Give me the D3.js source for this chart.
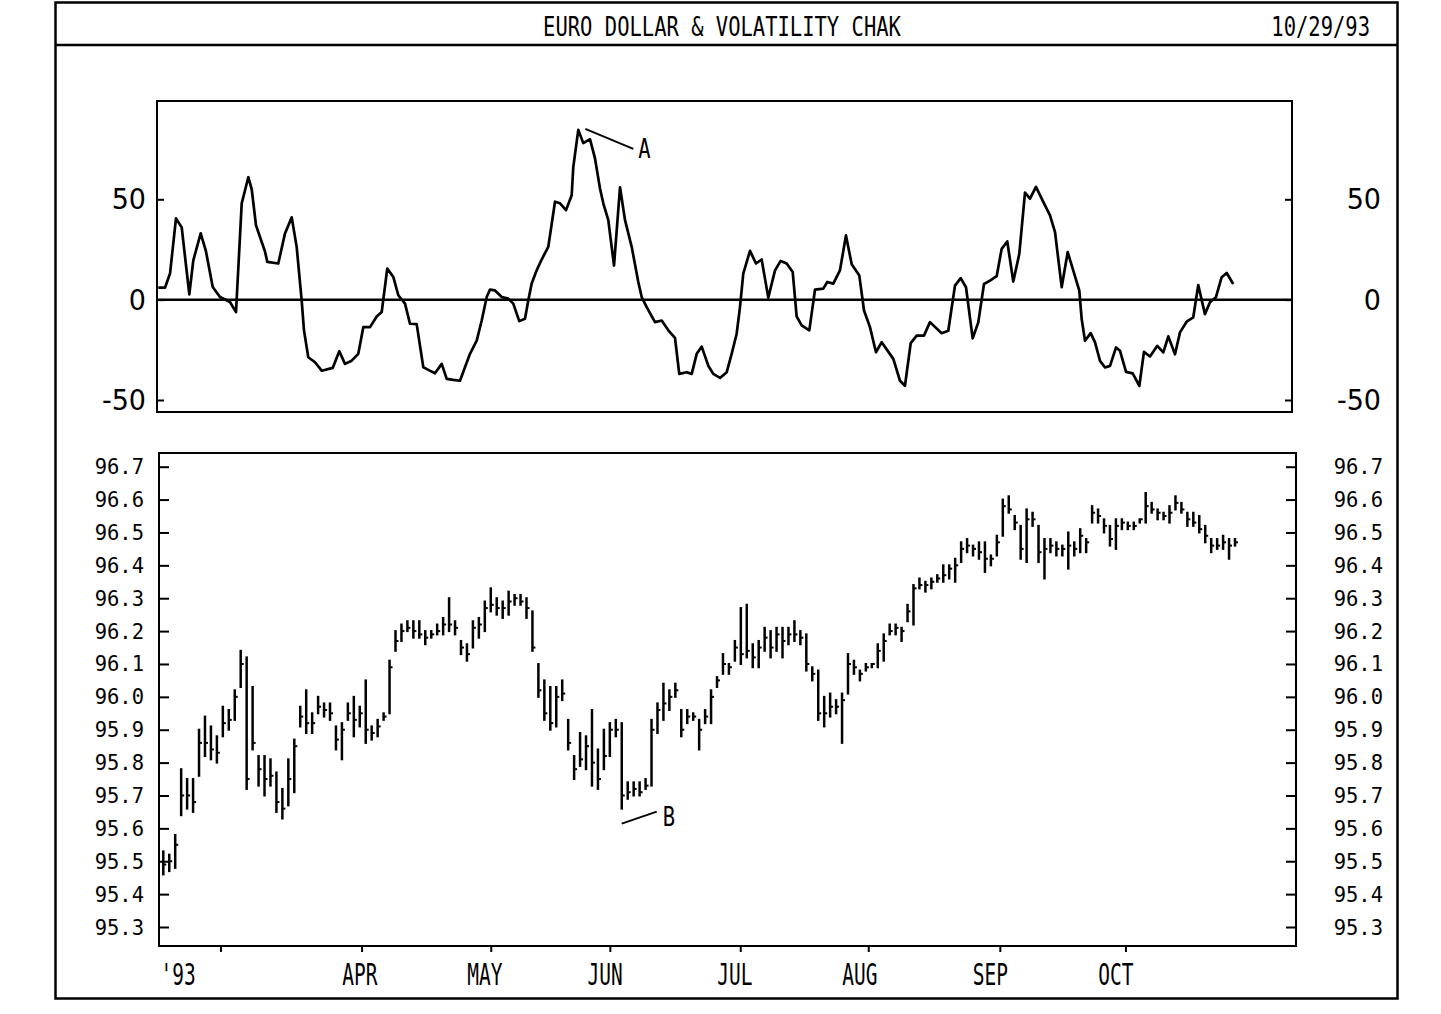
<!DOCTYPE html>
<html><head><meta charset="utf-8">
<script src="https://cdn.jsdelivr.net/npm/d3@7/dist/d3.min.js"></script>
<style>html,body{margin:0;padding:0;background:#fff;}svg{display:block;}</style>
</head><body>
<svg id="c" width="1441" height="1014"></svg>
<script>
// ---------------- data ----------------
const titleText = "EURO DOLLAR & VOLATILITY CHAK";
const dateText = "10/29/93";
const volTicks = [50, 0, -50];
const priceTicks = [96.7,96.6,96.5,96.4,96.3,96.2,96.1,96.0,95.9,95.8,95.7,95.6,95.5,95.4,95.3];
const monthTickDays = [9.6, 33.3, 55.0, 75.0, 96.9, 118.4, 140.5, 161.6];
const monthLabels = ["APR","MAY","JUN","JUL","AUG","SEP","OCT"];
const monthLabelDays = [33.0, 54.0, 74.2, 96.0, 117.0, 138.9, 160.0];
const yearLabel = "'93";
const yearLabelDay = 2.5;

// volatility line: trading-day position and value
const volDay = [-0.84,0.29,1.13,2.13,3.09,4.37,5.04,6.28,7.17,8.30,9.52,11.2,12.21,13.17,14.28,14.85,15.57,17.08,17.47,19.31,20.44,21.57,22.4,23.24,23.63,24.35,25.48,26.6,28.45,29.56,30.52,31.64,32.75,33.59,34.72,35.84,36.68,37.62,38.63,39.47,40.6,41.43,42.56,43.67,44.51,45.63,46.76,47.6,48.71,49.83,50.67,51.51,52.64,53.48,54.32,54.87,55.71,56.84,57.94,58.78,59.79,60.75,61.3,61.87,62.71,63.55,64.66,65.79,66.63,67.64,68.59,68.86,69.7,70.54,71.66,72.5,73.34,73.9,74.74,75.7,76.71,77.55,78.67,79.78,80.35,81.19,82.58,83.71,84.82,85.94,86.66,87.91,88.75,89.59,90.43,91.53,92.37,93.5,94.62,95.46,96.3,96.86,97.41,98.54,99.55,100.5,101.61,102.74,103.69,104.7,105.71,106.38,107.22,108.5,109.46,110.85,111.52,112.53,113.65,114.66,115.62,116.9,117.69,118.69,119.7,120.66,122.61,123.73,124.57,125.53,126.54,127.76,128.77,130.73,131.84,132.97,133.93,134.82,135.94,136.88,137.84,138.85,139.97,140.81,141.75,142.76,143.77,144.73,145.57,146.57,147.8,148.93,149.77,150.89,151.9,152.84,153.85,154.25,154.81,155.76,156.49,157.33,158.17,159.01,160.02,160.69,161.7,162.82,163.93,164.71,165.72,166.95,167.96,168.8,169.92,170.76,171.88,172.99,173.83,174.95,175.79,176.8,177.76,178.6,179.7];
const volValue = [6,6,13,40.5,36,2.6,19.6,33,24,6.3,1.3,-1.2,-6.2,48,61,55,37,24,18.8,18,33,41,26.3,-0.4,-15.3,-28.7,-31.2,-35.4,-34,-25.7,-32,-30.4,-27,-13.7,-13.7,-8.4,-6.2,15.5,11.3,2.2,-2,-12,-12.2,-33.7,-35,-36.7,-32,-39.5,-40,-40.4,-33.7,-27,-20.4,-10.4,1.3,5,4.6,1.3,0.5,-2,-10.7,-9.5,-0.4,8,14.6,20,26.3,48.8,48,44.6,52,66,84.6,78,80,70.5,55.5,48,39.6,17,56,39.6,26.3,8.8,1.3,-3.7,-11.2,-10.4,-15.3,-19,-37,-36.2,-37,-27,-23.4,-32.9,-37,-39,-36.2,-27,-17,-3.7,13,24.3,18,20,1,14.6,19.3,18,13.8,-8.4,-12.8,-15.3,5,5.5,8.8,8,14.6,32,17.6,12,-5.4,-13.7,-26.2,-21.2,-29.5,-40.4,-42.9,-21.7,-17.9,-17.9,-11.2,-16.7,-15.5,7,10.7,6.2,-19.3,-11.3,7.8,9.5,11.7,25.3,29,9,22.8,53.3,50.3,56.2,48.7,42,33.7,6.2,23.7,14.5,4.5,-9.7,-20.5,-16.7,-21.3,-30.5,-33.8,-33,-23.8,-25.5,-36,-36.7,-43,-26,-28.3,-23,-26.3,-18.3,-27.2,-16.3,-11,-8.8,7.3,-7.2,-1.3,1.2,11.2,13.3,7.8];

// daily price bars (one per trading day)
const barHigh = [95.53,95.52,95.58,95.78,95.75,95.75,95.90,95.94,95.91,95.88,95.97,95.96,96.02,96.14,96.12,96.03,95.82,95.82,95.81,95.77,95.72,95.81,95.87,95.97,96.02,95.95,96.00,95.98,95.98,95.91,95.92,95.98,96.00,95.97,96.05,95.91,95.93,95.95,96.11,96.20,96.22,96.23,96.23,96.23,96.20,96.20,96.22,96.24,96.30,96.23,96.17,96.16,96.23,96.24,96.29,96.33,96.30,96.29,96.32,96.31,96.31,96.30,96.26,96.10,96.05,96.03,96.03,96.05,95.93,95.82,95.89,95.88,95.96,95.84,95.90,95.92,95.93,95.92,95.74,95.74,95.74,95.75,95.93,95.98,96.04,96.02,96.04,95.96,95.96,95.95,95.93,95.96,96.02,96.06,96.13,96.10,96.17,96.27,96.28,96.16,96.17,96.21,96.20,96.21,96.21,96.21,96.23,96.20,96.19,96.09,96.08,96.00,96.01,95.99,96.01,96.13,96.11,96.08,96.10,96.10,96.16,96.19,96.22,96.22,96.21,96.28,96.34,96.36,96.35,96.36,96.37,96.40,96.40,96.42,96.47,96.48,96.46,96.47,96.47,96.43,96.49,96.60,96.61,96.55,96.52,96.57,96.56,96.52,96.48,96.48,96.47,96.46,96.50,96.47,96.51,96.48,96.58,96.57,96.54,96.52,96.54,96.54,96.53,96.53,96.54,96.62,96.59,96.57,96.56,96.58,96.61,96.59,96.56,96.56,96.55,96.52,96.48,96.48,96.49,96.48,96.48];
const barLow = [95.46,95.47,95.48,95.64,95.66,95.65,95.76,95.82,95.81,95.80,95.88,95.90,95.93,96.03,95.72,95.84,95.73,95.70,95.73,95.65,95.63,95.67,95.71,95.91,95.89,95.89,95.95,95.94,95.93,95.84,95.81,95.93,95.88,95.91,95.86,95.87,95.88,95.93,95.95,96.14,96.17,96.20,96.18,96.18,96.16,96.18,96.19,96.19,96.20,96.19,96.13,96.11,96.15,96.18,96.20,96.26,96.25,96.24,96.25,96.28,96.28,96.24,96.14,96.00,95.93,95.90,95.91,95.99,95.84,95.75,95.79,95.78,95.73,95.72,95.78,95.82,95.88,95.66,95.69,95.70,95.70,95.72,95.73,95.89,95.93,95.96,96.00,95.88,95.92,95.93,95.84,95.92,95.92,96.03,96.07,96.07,96.11,96.10,96.12,96.09,96.09,96.14,96.12,96.14,96.12,96.16,96.17,96.16,96.08,96.05,95.93,95.91,95.94,95.95,95.86,96.01,96.07,96.05,96.08,96.09,96.09,96.11,96.19,96.19,96.17,96.23,96.22,96.33,96.32,96.33,96.35,96.35,96.36,96.35,96.41,96.44,96.43,96.42,96.38,96.40,96.43,96.49,96.56,96.51,96.42,96.41,96.52,96.41,96.36,96.44,96.43,96.43,96.39,96.43,96.44,96.44,96.53,96.53,96.50,96.46,96.45,96.51,96.51,96.51,96.53,96.53,96.56,96.54,96.54,96.53,96.57,96.56,96.52,96.52,96.50,96.47,96.44,96.45,96.45,96.42,96.46];
const barClose = [95.49,95.50,95.55,95.70,95.70,95.68,95.86,95.86,95.84,95.83,95.92,95.93,96.00,96.10,95.75,95.86,95.78,95.75,95.76,95.68,95.66,95.75,95.85,95.94,95.92,95.92,95.97,95.96,95.95,95.87,95.90,95.95,95.93,95.95,95.90,95.89,95.91,95.94,96.09,96.17,96.20,96.21,96.20,96.19,96.18,96.19,96.20,96.22,96.22,96.21,96.15,96.13,96.21,96.22,96.27,96.28,96.27,96.27,96.29,96.30,96.29,96.27,96.15,96.02,95.95,95.92,96.00,96.01,95.86,95.78,95.81,95.85,95.80,95.75,95.82,95.90,95.90,95.70,95.71,95.72,95.71,95.73,95.90,95.96,95.98,96.00,96.02,95.90,95.94,95.94,95.90,95.94,96.00,96.05,96.10,96.09,96.15,96.13,96.14,96.12,96.15,96.18,96.15,96.19,96.17,96.19,96.19,96.18,96.10,96.07,95.95,95.95,95.97,95.97,95.99,96.10,96.09,96.07,96.09,96.10,96.14,96.17,96.20,96.21,96.20,96.26,96.33,96.34,96.34,96.35,96.36,96.37,96.39,96.40,96.45,96.46,96.45,96.44,96.42,96.42,96.47,96.58,96.57,96.53,96.45,96.54,96.54,96.44,96.45,96.46,96.45,96.45,96.46,96.45,96.49,96.47,96.56,96.55,96.52,96.48,96.52,96.53,96.52,96.52,96.54,96.58,96.57,96.56,96.55,96.56,96.59,96.57,96.54,96.53,96.51,96.49,96.46,96.46,96.47,96.46,96.47];

// ---------------- drawing ----------------
const svg = d3.select("#c");
svg.append("rect").attr("width",1441).attr("height",1014).attr("fill","#fff");
const FONT = "'DejaVu Sans Mono', 'Liberation Mono', monospace";
function txt(x, y, s, size, sy, anchor, family){
  return svg.append("text")
    .attr("transform", `translate(${x},${y}) scale(1,${sy})`)
    .attr("font-family", family || FONT).attr("font-size", size)
    .attr("text-anchor", anchor).attr("fill","#000").text(s);
}

// outer frame and title bar
svg.append("rect").attr("x",55.5).attr("y",2.5).attr("width",1342).attr("height",996)
  .attr("fill","none").attr("stroke","#000").attr("stroke-width",2.5);
svg.append("line").attr("x1",55).attr("x2",1398).attr("y1",45).attr("y2",45)
  .attr("stroke","#000").attr("stroke-width",2.5);
txt(722, 36, titleText, 20.5, 1.3, "middle");
txt(1370, 36, dateText, 20.5, 1.3, "end");

const x = d3.scaleLinear().domain([0,180]).range([163.3,1235]);

// ---- top panel: volatility ----
const topP = {l:157, r:1292, t:101, b:412};
const yv = d3.scaleLinear().domain([-50,50]).range([400,199.3]);
svg.append("rect").attr("x",topP.l).attr("y",topP.t).attr("width",topP.r-topP.l).attr("height",topP.b-topP.t)
  .attr("fill","none").attr("stroke","#000").attr("stroke-width",2);
svg.append("line").attr("x1",topP.l).attr("x2",topP.r).attr("y1",yv(0)).attr("y2",yv(0))
  .attr("stroke","#000").attr("stroke-width",2.5);
const gvl = svg.append("g").attr("transform",`translate(${topP.l},0)`)
  .call(d3.axisRight(yv).tickValues(volTicks).tickSize(7).tickFormat(""));
const gvr = svg.append("g").attr("transform",`translate(${topP.r},0)`)
  .call(d3.axisLeft(yv).tickValues(volTicks).tickSize(7).tickFormat(""));
[gvl,gvr].forEach(g=>{g.select(".domain").remove(); g.selectAll("line").attr("stroke","#000").attr("stroke-width",2);});
const SANS = "'DejaVu Sans', sans-serif";
volTicks.forEach(v=>{
  const lab = v < 0 ? "-" + Math.abs(v) : String(v);
  txt(146, yv(v)+10, lab, 27, 1.08, "end", SANS);
  txt(1381, yv(v)+10, lab, 27, 1.08, "end", SANS);
});
const volPts = volDay.map((d,i)=>[d, volValue[i]]);
svg.append("path").datum(volPts)
  .attr("d", d3.line().x(d=>x(d[0])).y(d=>yv(d[1])))
  .attr("fill","none").attr("stroke","#000").attr("stroke-width",2.7).attr("stroke-linejoin","round");

// annotation A at volatility peak
const peakI = volValue.indexOf(d3.max(volValue));
const ax = x(volDay[peakI]), ay = yv(volValue[peakI]);
svg.append("line").attr("x1",ax+7).attr("y1",ay-1).attr("x2",ax+55).attr("y2",ay+19)
  .attr("stroke","#000").attr("stroke-width",2);
txt(ax+60, ay+28, "A", 20.5, 1.3, "start");

// ---- bottom panel: price bars ----
const botP = {l:159, r:1296, t:453, b:946};
const yp = d3.scaleLinear().domain([95.3,96.7]).range([927,466.7]);
svg.append("rect").attr("x",botP.l).attr("y",botP.t).attr("width",botP.r-botP.l).attr("height",botP.b-botP.t)
  .attr("fill","none").attr("stroke","#000").attr("stroke-width",2);
const gpl = svg.append("g").attr("transform",`translate(${botP.l},0)`)
  .call(d3.axisRight(yp).tickValues(priceTicks).tickSize(10).tickFormat(""));
const gpr = svg.append("g").attr("transform",`translate(${botP.r},0)`)
  .call(d3.axisLeft(yp).tickValues(priceTicks).tickSize(10).tickFormat(""));
const gx = svg.append("g").attr("transform",`translate(0,${botP.b})`)
  .call(d3.axisBottom(x).tickValues(monthTickDays).tickSize(6).tickFormat(""));
[gpl,gpr,gx].forEach(g=>{g.select(".domain").remove(); g.selectAll("line").attr("stroke","#000").attr("stroke-width",2);});
priceTicks.forEach(p=>{
  txt(144, yp(p)+7.5, p.toFixed(1), 20.5, 1.05, "end");
  txt(1383, yp(p)+7.5, p.toFixed(1), 20.5, 1.05, "end");
});
monthLabels.forEach((m,i)=> txt(x(monthLabelDays[i]), 985, m, 19.5, 1.5, "middle"));
txt(x(yearLabelDay), 985, yearLabel, 19.5, 1.5, "middle");

const bars = svg.append("g");
barHigh.forEach((h,i)=>{
  bars.append("line").attr("x1",x(i)).attr("x2",x(i)).attr("y1",yp(h)-1).attr("y2",yp(barLow[i])+1)
    .attr("stroke","#000").attr("stroke-width",2.5);
  bars.append("line").attr("x1",x(i)).attr("x2",x(i)+3).attr("y1",yp(barClose[i])).attr("y2",yp(barClose[i]))
    .attr("stroke","#000").attr("stroke-width",2);
});

// annotation B at the price low
const lowI = barLow.indexOf(d3.min(barLow.slice(40)), 40);
const bx = x(lowI), by = yp(barLow[lowI]);
svg.append("line").attr("x1",bx).attr("y1",by+15).attr("x2",bx+35).attr("y2",by+3)
  .attr("stroke","#000").attr("stroke-width",2);
txt(bx+41, by+17, "B", 20.5, 1.3, "start");
</script>
</body></html>
